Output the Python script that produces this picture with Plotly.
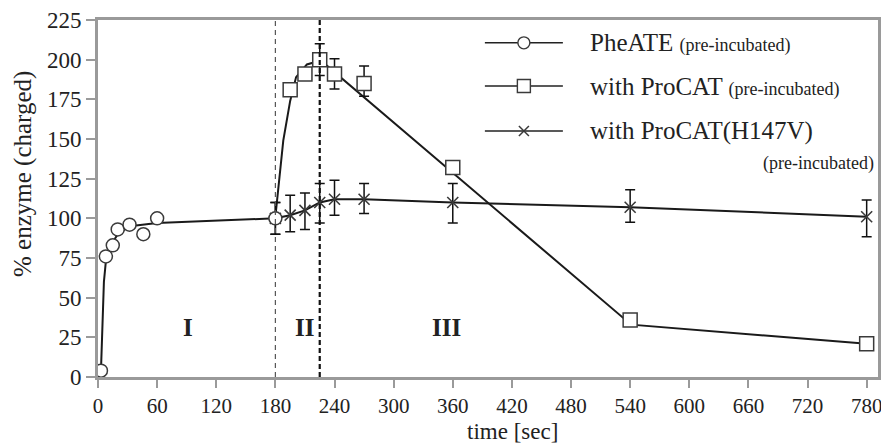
import plotly.graph_objects as go

# ---------------- data ----------------
phe_t = [3, 8, 15, 20, 32, 46, 60, 180]
phe_v = [4, 76, 83, 93, 96, 90, 100, 100]
phe_up = [0, 0, 0, 0, 0, 0, 0, 10]
phe_dn = [0, 0, 0, 0, 0, 0, 0, 10]
phe_fit_t = [3, 6, 8, 12, 20, 32, 45, 60, 180]
phe_fit_v = [4, 60, 73, 82, 90, 95, 96, 97, 100]

pro_t = [195, 210, 225, 240, 270, 360, 540, 780]
pro_v = [181, 191, 200, 191, 185, 132, 36, 21]
pro_up = [0, 0, 10, 9.5, 11, 3, 0, 0]
pro_dn = [0, 0, 10, 9.5, 8, 3, 0, 0]
pro_fit_t = [180, 188, 195, 201, 212, 226, 541, 780]
pro_fit_v = [101, 149, 174, 189, 197, 199.5, 33, 21]

h_t = [180, 195, 210, 225, 240, 270, 360, 540, 780]
h_v = [100, 102, 105, 110, 112, 112, 110, 107, 101]
h_up = [10, 12.6, 11, 12, 12, 10, 12, 11, 10.5]
h_dn = [10, 10.4, 12, 13, 10, 9, 13, 9.5, 12.6]

phase_lines = [180, 225]
region_labels = ["I", "II", "III"]
region_t = [91, 210, 354]
region_y = 31

x_ticks = list(range(0, 781, 60))
y_ticks = list(range(0, 226, 25))

x_title = "time [sec]"
y_title = "% enzyme (charged)"
legend_names = ["PheATE", "with ProCAT", "with ProCAT(H147V)"]
legend_sub = "(pre-incubated)"

# ---------------- styling ----------------
SERIF = "Liberation Serif"
LINE = "#1a1a1a"
MK = "#3a3a3a"
AX = "#9a9a9a"
TXT = "#222"

fig = go.Figure()

# fit / connecting lines
fig.add_trace(go.Scatter(x=phe_fit_t, y=phe_fit_v, mode="lines",
                         line=dict(color=LINE, width=2), hoverinfo="skip"))
fig.add_trace(go.Scatter(x=pro_fit_t, y=pro_fit_v, mode="lines",
                         line=dict(color=LINE, width=2), hoverinfo="skip"))
fig.add_trace(go.Scatter(x=h_t, y=h_v, mode="lines",
                         line=dict(color=LINE, width=2), hoverinfo="skip"))

err = dict(type="data", symmetric=False, color="#111", thickness=1.5, width=5)

fig.add_trace(go.Scatter(
    x=h_t, y=h_v, mode="markers",
    marker=dict(symbol="x-thin-open", size=11, color=MK, line=dict(color=MK, width=1.6)),
    error_y=dict(err, array=h_up, arrayminus=h_dn)))
fig.add_trace(go.Scatter(
    x=pro_t, y=pro_v, mode="markers",
    marker=dict(symbol="square", size=14, color="white", line=dict(color=MK, width=1.5)),
    error_y=dict(err, array=pro_up, arrayminus=pro_dn)))
fig.add_trace(go.Scatter(
    x=phe_t, y=phe_v, mode="markers",
    marker=dict(symbol="circle", size=13, color="white", line=dict(color=MK, width=1.5)),
    error_y=dict(err, array=phe_up, arrayminus=phe_dn)))

shapes = []
# phase separators
shapes.append(dict(type="line", xref="x", yref="paper", x0=phase_lines[0], x1=phase_lines[0],
                   y0=0, y1=1, line=dict(color="#555", width=1.2, dash="5px,4px")))
shapes.append(dict(type="line", xref="x", yref="paper", x0=phase_lines[1], x1=phase_lines[1],
                   y0=0, y1=1, line=dict(color="#111", width=2.2, dash="5px,3px")))

annotations = []
for lab, t in zip(region_labels, region_t):
    annotations.append(dict(x=t, y=region_y, xref="x", yref="y", text="<b>%s</b>" % lab,
                            showarrow=False, font=dict(family=SERIF, size=25, color=TXT)))

# axis titles (placed as in the reference, off-centre)
annotations.append(dict(x=0.531, y=-0.152, xref="paper", yref="paper", text=x_title,
                        showarrow=False, xanchor="center", yanchor="middle",
                        font=dict(family=SERIF, size=23, color=TXT)))
annotations.append(dict(x=-0.096, y=0.569, xref="paper", yref="paper", text=y_title,
                        showarrow=False, xanchor="center", yanchor="middle", textangle=-90,
                        font=dict(family=SERIF, size=25, color=TXT)))

# ---------------- manual legend ----------------
leg_y = [0.936, 0.815, 0.689]
lx0, lx1, lxm, ltx = 0.496, 0.596, 0.546, 0.628
for i, yy in enumerate(leg_y):
    shapes.append(dict(type="line", xref="paper", yref="paper", x0=lx0, x1=lx1, y0=yy, y1=yy,
                       line=dict(color="#222", width=1.5)))
    if i == 0:
        shapes.append(dict(type="circle", xref="paper", yref="paper", xsizemode="pixel",
                           ysizemode="pixel", xanchor=lxm, yanchor=yy, x0=-6, x1=6, y0=-6, y1=6,
                           fillcolor="white", line=dict(color=MK, width=1.4)))
    elif i == 1:
        shapes.append(dict(type="rect", xref="paper", yref="paper", xsizemode="pixel",
                           ysizemode="pixel", xanchor=lxm, yanchor=yy, x0=-6.5, x1=6.5, y0=-6.5, y1=6.5,
                           fillcolor="white", line=dict(color=MK, width=1.4)))
    else:
        for a, b in ((-5, 5), (5, -5)):
            shapes.append(dict(type="line", xref="paper", yref="paper", xsizemode="pixel",
                               ysizemode="pixel", xanchor=lxm, yanchor=yy, x0=-5, x1=5, y0=a, y1=b,
                               line=dict(color=MK, width=1.5)))

for i, (name, yy) in enumerate(zip(legend_names, leg_y)):
    txt = name if i == 2 else "%s <span style='font-size:18px'>%s</span>" % (name, legend_sub)
    annotations.append(dict(x=ltx, y=yy, xref="paper", yref="paper", xanchor="left",
                            yanchor="middle", text=txt, showarrow=False,
                            font=dict(family=SERIF, size=25, color=TXT)))
annotations.append(dict(x=0.997, y=0.599, xref="paper", yref="paper", xanchor="right",
                        yanchor="middle", text=legend_sub, showarrow=False,
                        font=dict(family=SERIF, size=18, color=TXT)))

# page body has an 8px margin: plot area placed at 98..878 x 20..377 in window pixels
fig.update_layout(
    width=881, height=438,
    margin=dict(l=90, r=11, t=12, b=69, autoexpand=False),
    plot_bgcolor="white", paper_bgcolor="white",
    showlegend=False,
    shapes=shapes, annotations=annotations,
    font=dict(family=SERIF, size=22, color=TXT),
)
fig.update_xaxes(range=[0, 791.5], tickvals=x_ticks, ticks="outside", ticklen=8, tickwidth=2,
                 tickcolor=AX, showline=True, linecolor=AX, linewidth=3, mirror=True,
                 showgrid=False, zeroline=False, automargin=False, ticklabeloverflow="allow",
                 tickfont=dict(family=SERIF, size=21, color=TXT))
fig.update_yaxes(range=[0, 225], tickvals=y_ticks, ticks="outside", ticklen=9, tickwidth=2,
                 tickcolor=AX, showline=True, linecolor=AX, linewidth=3, mirror=True,
                 showgrid=False, zeroline=False, automargin=False, ticklabeloverflow="allow",
                 tickfont=dict(family=SERIF, size=23, color=TXT))

fig.write_html("out.html")
